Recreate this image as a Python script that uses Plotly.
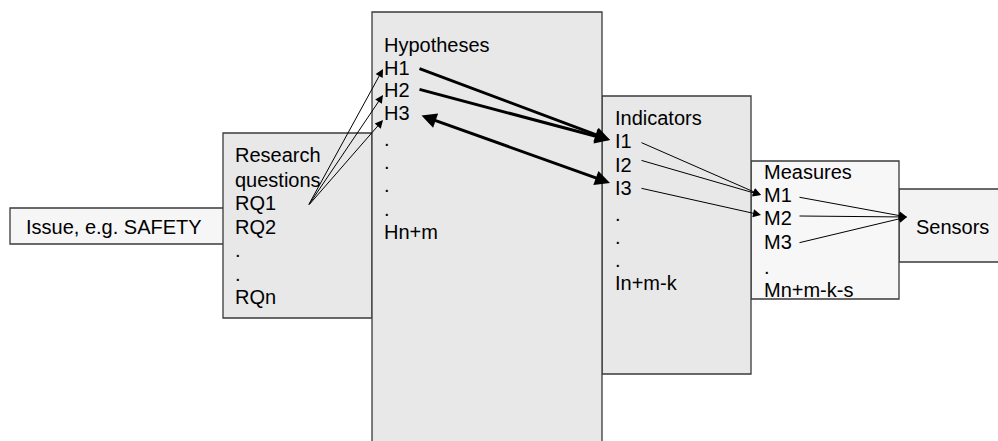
import plotly.graph_objects as go

# ---- diagram content ----
issue_label = "Issue, e.g. SAFETY"
rq_labels = ["Research", "questions", "RQ1", "RQ2", ".", ".", "RQn"]
hyp_labels = ["Hypotheses", "H1", "H2", "H3", ".", ".", ".", ".", "Hn+m"]
ind_labels = ["Indicators", "I1", "I2", "I3", ".", ".", ".", "In+m-k"]
mea_labels = ["Measures", "M1", "M2", "M3", ".", "Mn+m-k-s"]
sensor_label = "Sensors"

W, H = 998, 441
FONT = "Liberation Sans, Arial, sans-serif"
EDGE = "#3a3a3a"
FS = 20

fig = go.Figure()

# boxes (x0, y0, x1, y1, fill) drawn in order
boxes = [
    (10, 208, 224, 244, "#f6f6f6"),
    (223, 133, 372, 318, "#e8e8e8"),
    (899, 189, 1005, 262, "#f3f3f3"),
    (751, 161, 899, 299, "#f7f7f7"),
    (602, 96, 751, 374, "#e8e8e8"),
    (372, 12, 602, 450, "#e8e8e8"),
]
for x0, y0, x1, y1, c in boxes:
    fig.add_shape(type="rect", x0=x0, y0=y0, x1=x1, y1=y1,
                  fillcolor=c, line=dict(color=EDGE, width=1.3), layer="below")

def add_text(x, y, t, anchor="left"):
    fig.add_annotation(x=x, y=y, text=t, showarrow=False, xanchor=anchor,
                       yanchor="middle", borderpad=0,
                       font=dict(family=FONT, size=FS, color="black"))

add_text(25, 227, issue_label)
add_text(915, 227, sensor_label)

rq_y = [155, 180, 203, 227, 250, 274, 297]
for t, y in zip(rq_labels, rq_y):
    add_text(234, y, t)
hyp_y = [45, 68, 90, 113, 139, 162, 185, 209, 232]
for t, y in zip(hyp_labels, hyp_y):
    add_text(383, y, t)
ind_y = [118, 141, 165, 188, 214, 237, 260, 283]
for t, y in zip(ind_labels, ind_y):
    add_text(614, y, t)
mea_y = [172, 195, 218, 242, 267, 290]
for t, y in zip(mea_labels, mea_y):
    add_text(763, y, t)

def arrow(x0, y0, x1, y1, w=1, both=False):
    fig.add_annotation(x=x1, y=y1, ax=x0, ay=y0, xref="x", yref="y",
                       axref="x", ayref="y", text="", showarrow=True,
                       arrowhead=2, arrowsize=1.6 if w < 2 else 1.0,
                       arrowwidth=w, arrowcolor="black", standoff=0,
                       startstandoff=0,
                       arrowside="end+start" if both else "end",
                       startarrowhead=2, startarrowsize=1.0)

# RQ -> hypotheses
for ty in [69, 95, 120]:
    arrow(308, 206, 383, ty)
# hypotheses -> indicators
arrow(418, 68, 610, 140, w=3)
arrow(418, 89, 610, 140, w=3)
arrow(420, 115, 610, 183, w=3, both=True)
# indicators -> measures
arrow(640, 142, 761, 195)
arrow(640, 160, 761, 195)
arrow(640, 188, 761, 215)
# measures -> sensors
arrow(798, 197, 907, 217)
arrow(798, 216, 907, 217)
arrow(798, 243, 907, 217)

fig.update_layout(
    width=W, height=H, margin=dict(l=0, r=0, t=0, b=0),
    paper_bgcolor="white", plot_bgcolor="white", showlegend=False,
    xaxis=dict(range=[0, W], visible=False, fixedrange=True),
    yaxis=dict(range=[H, 0], visible=False, fixedrange=True),
)
fig.write_html("out.html", config={"displayModeBar": False, "staticPlot": True},
               post_script="document.body.style.margin='0px';document.body.style.overflow='hidden';")
